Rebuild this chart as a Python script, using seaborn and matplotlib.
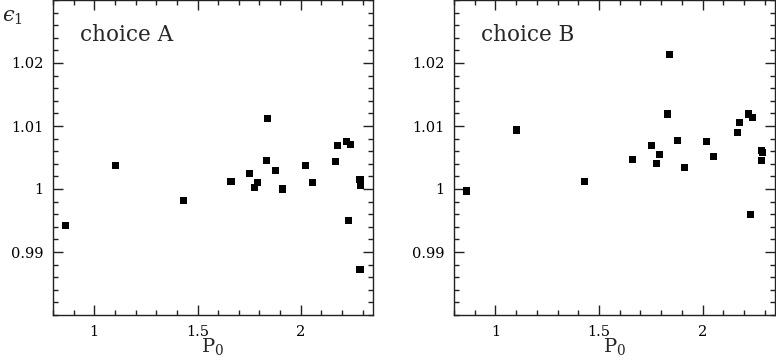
import numpy as np
import pandas as pd
import matplotlib
matplotlib.use("Agg")
import matplotlib.pyplot as plt
import seaborn as sns
from matplotlib.ticker import MultipleLocator

# period P0 of each object (same for both choices)
p0 = [0.860, 1.102, 1.430, 1.662, 1.753, 1.778, 1.791, 1.832, 1.840, 1.877,
      1.912, 2.021, 2.055, 2.168, 2.180, 2.221, 2.231, 2.243, 2.287, 2.289, 2.287]

# epsilon_1 for choice A and choice B
eps_a = [0.9942, 1.00367, 0.99824, 1.00112, 1.00245, 1.0002, 1.00101, 1.00447,
         1.01112, 1.00293, 1.0000, 1.00378, 1.00101, 1.00431, 1.00691, 1.00755,
         0.9950, 1.00713, 1.00149, 1.00064, 0.98729]
eps_b = [0.99968, 1.00936, 1.00117, 1.00473, 1.00686, 1.00399, 1.00543, 1.01191,
         1.02133, 1.00766, 1.00335, 1.0075, 1.00511, 1.00899, 1.01059, 1.01191,
         0.9959, 1.01128, 1.00617, 1.0058, 1.00452]

panels = [("choice A", eps_a), ("choice B", eps_b)]

sns.set_style("ticks")
plt.rcParams["font.family"] = ["DejaVu Serif"]
plt.rcParams["mathtext.fontset"] = "dejavuserif"

fig = plt.figure(figsize=(7.76, 3.63), dpi=100)
W, H = 776, 363
boxes = [(53, 320), (454, 321)]

for (title, eps), (x0, w) in zip(panels, boxes):
    ax = fig.add_axes([x0 / W, 48 / H, w / W, 315 / H])
    df = pd.DataFrame({"P0": p0, "eps": eps})
    sns.scatterplot(data=df, x="P0", y="eps", marker="s", s=26, color="black",
                    edgecolor="none", linewidth=0, ax=ax)
    ax.set_xlim(0.8, 2.35)
    ax.set_ylim(0.98, 1.03)
    ax.xaxis.set_minor_locator(MultipleLocator(0.1))
    ax.yaxis.set_minor_locator(MultipleLocator(0.002))
    ax.set_xticks([1, 1.5, 2])
    ax.set_xticklabels(["1", "1.5", "2"])
    ax.set_yticks([0.99, 1.0, 1.01, 1.02])
    ax.set_yticklabels(["0.99", "1", "1.01", "1.02"])
    ax.tick_params(which="both", direction="in", top=True, right=True,
                   colors="#222222", labelcolor="black", width=1.0,
                   labelsize=10.5, pad=7)
    ax.tick_params(which="major", length=7)
    ax.tick_params(which="minor", length=3.5)
    for sp in ax.spines.values():
        sp.set_visible(True)
        sp.set_color("#222222")
        sp.set_linewidth(1.0)
    ax.set_ylabel("")
    ax.set_xlabel("")
    ax.text(0.085, 0.87, title, transform=ax.transAxes, fontsize=15.5,
            ha="left", va="baseline")
    fig.text((x0 + w / 2) / W, 1 - 352 / H, r"$\mathrm{P}_0$", fontsize=14,
             ha="center", va="baseline")

fig.text(2 / W, 1 - 22 / H, "$\u03f5_1$", fontsize=15, ha="left",
         va="baseline")

fig.savefig("out.png", dpi=100)
